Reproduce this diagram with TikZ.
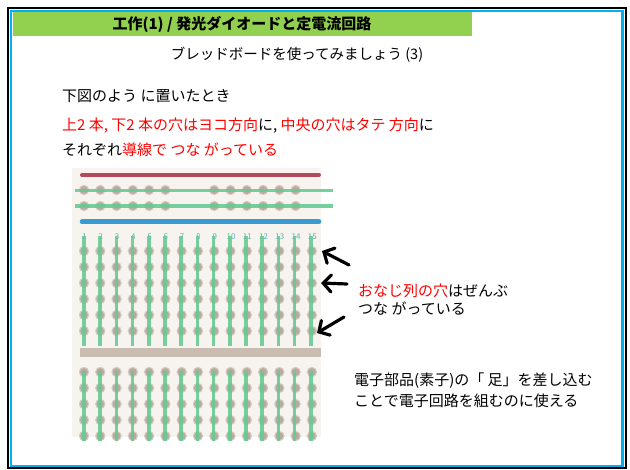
\documentclass[tikz,border=0pt]{standalone}
\usepackage{fontspec}
\setmainfont{Noto Sans CJK JP}
\usetikzlibrary{arrows.meta}

\definecolor{hdrgreen}{RGB}{146,208,80}
\definecolor{frameblue}{RGB}{0,176,240}
\definecolor{boardbg}{RGB}{247,243,238}
\definecolor{railred}{RGB}{180,72,92}
\definecolor{railblue}{RGB}{58,155,210}
\definecolor{divgray}{RGB}{201,189,178}
\definecolor{holec}{RGB}{184,170,160}
\definecolor{wire}{RGB}{100,202,144}
\definecolor{numc}{RGB}{100,175,185}
\definecolor{txtred}{RGB}{255,0,0}

\tikzset{
  body/.style={anchor=west, inner sep=0pt, font=\fontsize{15}{15}\selectfont},
  hole/.style={fill=holec},
  holehalo/.style={fill=holec!55!boardbg},
  wireline/.style={draw=wire, line width=3.5pt, opacity=0.88},
  colnum/.style={inner sep=0pt, text=numc, font=\fontsize{8}{8}\selectfont},
  pointer/.style={draw=black, line width=3.2pt, line cap=round, -{Straight Barb[length=8pt,width=17pt,line cap=round]}},
}

\begin{document}
\begin{tikzpicture}[x=1pt, y=-1pt]
\useasboundingbox (0,0) rectangle (630,470);
\fill[white] (0,0) rectangle (630,470);

% slide frame and header band
\draw[black, line width=2pt] (8,8) rectangle (626,468.5);
\draw[frameblue, line width=2.5pt] (11.2,11.2) rectangle (622.5,466);
\fill[hdrgreen] (12.5,12.5) rectangle (472,36);

\node[inner sep=0pt, font=\fontsize{15}{15}\selectfont\bfseries] (title) at (242,24) {工作(1) / 発光ダイオードと定電流回路};
\node[inner sep=0pt, font=\fontsize{14.5}{14.5}\selectfont] (subtitle) at (297,55) {ブレッドボードを使ってみましょう (3)};

% explanation
\node[body] (l1) at (62,96) {下図のよう に置いたとき};
\node[body] (l2) at (62,126) {{\color{txtred}上2 本, 下2 本の穴はヨコ方向}に, {\color{txtred}中央の穴はタテ 方向}に};
\node[body] (l3) at (62,150) {それぞれ{\color{txtred}導線で つな がっている}};

% breadboard
\fill[boardbg] (72,168) rectangle (321,437);
\draw[railred, line width=4pt, line cap=round] (82,175) -- (319,175);
\draw[railblue, line width=4.5pt, line cap=round] (82,221.7) -- (319,221.7);
\fill[divgray] (80,348.3) rectangle (321,356.7);

% power rail holes
\foreach \i in {0,...,5,8,9,...,13} {
  \foreach \y in {190,206} {
    \fill[holehalo] ({84+16.28*\i},\y) circle (5.2);
    \fill[hole] ({84+16.28*\i},\y) circle (3.9);
  }
}
% terminal strip holes
\foreach \i in {0,...,14} {
  \foreach \y in {251,267,283,299,315,331,372,388,404,420,436} {
    \fill[holehalo] ({84+16.28*\i},\y) circle (5.2);
    \fill[hole] ({84+16.28*\i},\y) circle (3.9);
  }
}
% column numbers
\foreach \i in {1,...,15} {
  \node[colnum] (n\i) at ({84.5+16.28*(\i-1)},237) {\i};
}

% internal connections
\draw[wireline] (75,190.5) -- (333,190.5);
\draw[wireline] (75,206) -- (333,206);
\foreach \i in {0,...,14} {
  \draw[wireline] ({84+16.2*\i},236) -- ({84+16.2*\i},346);
  \draw[wireline] ({84+16.2*\i},371) -- ({84+16.2*\i},441);
}

% pointers to column 15
\coordinate (a1s) at (349,265);
\coordinate (a1e) at (322,251);
\coordinate (a2s) at (347,284);
\coordinate (a2e) at (321,283);
\coordinate (a3s) at (344,317);
\coordinate (a3e) at (317,333);
\draw[pointer] (a1s) -- (a1e);
\draw[pointer] (a2s) -- (a2e);
\draw[pointer] (a3s) -- (a3e);

\node[body] (c1) at (358,291) {{\color{txtred}おなじ列の穴}はぜんぶ};
\node[body] (c2) at (358,309) {つな がっている};

\node[body] (d1) at (354,381) {電子部品(素子)の「 足」を差し込む};
\node[body] (d2) at (354,401) {ことで電子回路を組むのに使える};
\end{tikzpicture}
\end{document}
